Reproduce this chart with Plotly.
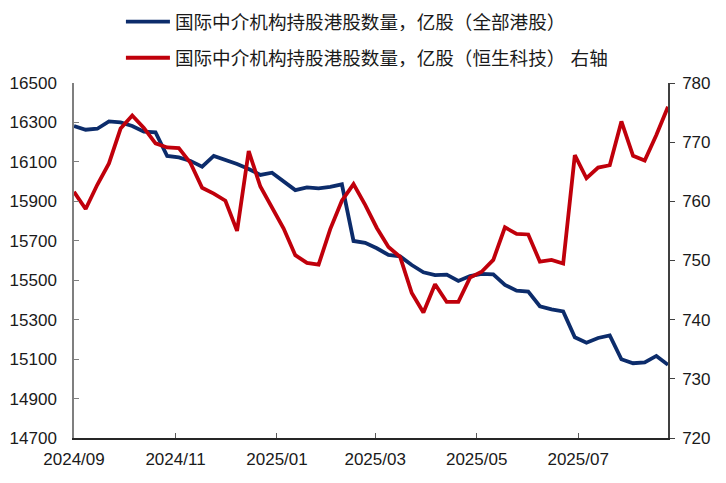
import pandas as pd
import plotly.graph_objects as go

dates = pd.date_range("2024-09-01", periods=52, freq="7D")

all_hk = [16282, 16263, 16268, 16305, 16300, 16282, 16253, 16250, 16130, 16123,
          16105, 16076, 16130, 16110, 16089, 16064, 16034, 16045, 16003, 15957,
          15971, 15966, 15973, 15986, 15699, 15690, 15662, 15628, 15621, 15577,
          15540, 15526, 15528, 15496, 15521, 15532, 15530, 15476, 15447, 15442,
          15368, 15352, 15342, 15211, 15183, 15207, 15220, 15099, 15079, 15083,
          15116, 15071]

hstech = [761.6, 758.7, 762.8, 766.4, 772.3, 774.5, 772.4, 769.8, 769.1, 769.0,
          766.5, 762.3, 761.3, 760.1, 755.0, 768.5, 762.5, 758.8, 755.4, 750.9,
          749.6, 749.3, 755.3, 760.1, 762.9, 759.4, 755.5, 752.3, 750.6, 744.5,
          741.2, 746.0, 743.0, 743.0, 747.1, 748.1, 750.1, 755.6, 754.5, 754.4,
          749.8, 750.1, 749.5, 767.8, 763.9, 765.7, 766.1, 773.5, 767.7, 766.9,
          771.2, 776.0]

name_all = "国际中介机构持股港股数量，亿股（全部港股）"
name_tech = "国际中介机构持股港股数量，亿股（恒生科技） 右轴"

FONT = "Liberation Sans, Arial, Noto Sans CJK SC"

fig = go.Figure()
fig.add_trace(go.Scatter(x=dates, y=all_hk, mode="lines", name=name_all,
                         line=dict(color="#0C2C6B", width=3.8), legend="legend"))
fig.add_trace(go.Scatter(x=dates, y=hstech, mode="lines", name=name_tech,
                         line=dict(color="#C0000B", width=3.8), yaxis="y2",
                         legend="legend2"))

fig.update_layout(
    width=718, height=475,
    margin=dict(l=66, r=58, t=75, b=45, autoexpand=False),
    paper_bgcolor="white", plot_bgcolor="white",
    font=dict(family=FONT, size=17, color="#1a1a1a"),
    showlegend=True,
    legend=dict(x=0.079, y=1.172, xanchor="left", yanchor="middle",
                bgcolor="rgba(0,0,0,0)", font=dict(size=18.6, family=FONT),
                itemwidth=44),
    legend2=dict(x=0.079, y=1.070, xanchor="left", yanchor="middle",
                 bgcolor="rgba(0,0,0,0)", font=dict(size=18.6, family=FONT),
                 itemwidth=44),
    xaxis=dict(type="date", range=["2024-09-01", "2025-08-24"],
               tick0="2024-09-01", dtick="M2", tickformat="%Y/%m",
               showgrid=False, zeroline=False, showline=True,
               linecolor="#262626", linewidth=1.5,
               ticks="inside", ticklen=5, tickcolor="#595959",
               ticklabelstandoff=5, tickfont=dict(size=17)),
    yaxis=dict(range=[14700, 16500], tick0=14700, dtick=200, tickformat="d",
               showgrid=False, zeroline=False, showline=True,
               linecolor="#7f7f7f", linewidth=1.5,
               ticks="inside", ticklen=5, tickcolor="#7f7f7f",
               ticklabelstandoff=12, tickfont=dict(size=17)),
    yaxis2=dict(range=[720, 780], tick0=720, dtick=10, overlaying="y",
                side="right", showgrid=False, zeroline=False, showline=True,
                linecolor="#404040", linewidth=1.5,
                ticks="outside", ticklen=5, tickcolor="#404040",
                ticklabelstandoff=4, tickfont=dict(size=17)),
)

fig.write_html("out.html")
